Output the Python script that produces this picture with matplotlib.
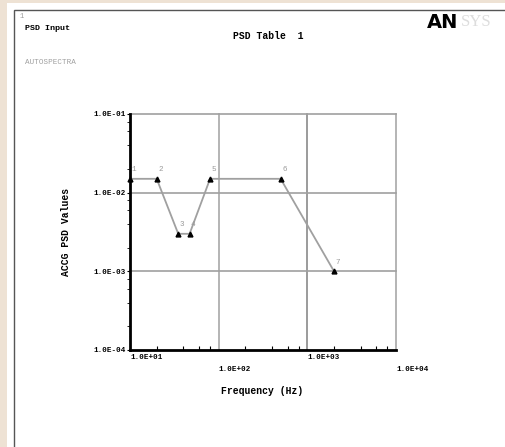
import numpy as np
from matplotlib import pyplot as plt
from matplotlib.patches import Rectangle

# PSD table
freq = [10, 20, 35, 47, 80, 500, 2000]
psd = [0.015, 0.015, 0.003, 0.003, 0.015, 0.015, 0.001]
point_ids = ['1', '2', '3', '4', '5', '6', '7']
x_ticks = [10, 100, 1000, 10000]
x_ticklabels = ['1.0E+01', '1.0E+02', '1.0E+03', '1.0E+04']
y_ticks = [1e-4, 1e-3, 1e-2, 1e-1]
y_ticklabels = ['1.0E-04', '1.0E-03', '1.0E-02', '1.0E-01']

W, H = 505, 447
mono = 'Liberation Mono'

fig = plt.figure(figsize=(W / 100, H / 100), dpi=100)
fig.patch.set_facecolor('#eee2d4')

# white panel with dark border, like the ANSYS graphics window
fig.add_artist(Rectangle((7 / W, 0), 1, 1 - 3 / H, transform=fig.transFigure,
                         facecolor='white', edgecolor='none', zorder=0))
fig.add_artist(Rectangle((14 / W, -0.01), 1, 1 - 10 / H + 0.01, transform=fig.transFigure,
                         facecolor='white', edgecolor='#555555', lw=1.0, zorder=0))

ax = fig.add_axes([130 / W, 1 - 350 / H, 266 / W, 236 / H])
ax.set_xscale('log')
ax.set_yscale('log')
ax.set_xlim(10, 10000)
ax.set_ylim(1e-4, 1e-1)

# grid
for xv in x_ticks[1:]:
    ax.axvline(xv, color='#a8a8a8' if xv != 1000 else '#8a8a8a', lw=1.2, zorder=1, clip_on=False)
for yv in y_ticks[1:]:
    ax.axhline(yv, color='#a0a0a0', lw=1.2, zorder=1, clip_on=False)

for side in ['top', 'right']:
    ax.spines[side].set_visible(False)
for side in ['left', 'bottom']:
    ax.spines[side].set_linewidth(2.0)
    ax.spines[side].set_color('black')

ax.set_xticks(x_ticks)
ax.set_xticklabels([])
ax.set_yticks(y_ticks)
ax.set_yticklabels(y_ticklabels, fontsize=5.5, fontfamily=mono, fontweight='bold')
minors_x = [m * 10 ** d for d in range(1, 4) for m in (2, 4, 6, 8)]
minors_y = [m * 10.0 ** d for d in range(-4, -1) for m in (2, 4, 6, 8)]
ax.set_xticks(minors_x, minor=True)
ax.set_yticks(minors_y, minor=True)
ax.xaxis.set_minor_formatter(plt.NullFormatter())
ax.yaxis.set_minor_formatter(plt.NullFormatter())
ax.tick_params(axis='x', which='major', direction='in', length=0)
ax.tick_params(axis='x', which='minor', direction='in', length=3, width=0.8)
ax.tick_params(axis='y', which='major', direction='out', length=2, width=0.8, pad=1)
ax.tick_params(axis='y', which='minor', direction='out', length=2, width=0.6)

# staggered x tick labels, left aligned at the tick
for i, (xv, lab) in enumerate(zip(x_ticks, x_ticklabels)):
    yy = -0.03 if i % 2 == 0 else -0.083
    ax.text(xv, yy, lab, transform=ax.get_xaxis_transform(), ha='left', va='center',
            fontsize=5.5, fontfamily=mono, fontweight='bold')

ax.plot(freq, psd, color='#a0a0a0', lw=1.3, zorder=3, clip_on=False)
ax.plot(freq, psd, ls='none', marker='^', ms=3.5, color='black', zorder=4, clip_on=False)
for f, p, pid in zip(freq, psd, point_ids):
    ax.annotate(pid, (f, p), xytext=(1, 4), textcoords='offset points',
                fontsize=5.5, color='#9a9a9a', fontfamily=mono, ha='left', va='bottom')

fig.text(262 / W, 1 - 391 / H, 'Frequency (Hz)', ha='center', va='center',
         fontsize=7, fontfamily=mono, fontweight='bold')
fig.text(66 / W, 1 - 232 / H, 'ACCG PSD Values', ha='center', va='center', rotation=90,
         fontsize=7, fontfamily=mono, fontweight='bold')

# header texts
fig.text(20 / W, 1 - 17 / H, '1', fontsize=5, color='#999999', fontfamily=mono, va='center')
fig.text(25 / W, 1 - 29 / H, 'PSD Input', fontsize=6, fontfamily=mono, fontweight='bold', va='center')
fig.text(268 / W, 1 - 36 / H, 'PSD Table  1', fontsize=7, fontfamily=mono, fontweight='bold',
         ha='center', va='center')
fig.text(25 / W, 1 - 62 / H, 'AUTOSPECTRA', fontsize=5.5, color='#a0a0a0', fontfamily=mono, va='center')

# logo
fig.text(427 / W, 1 - 22 / H, 'AN', fontsize=14, fontweight='bold', fontfamily='DejaVu Sans',
         va='center', ha='left', color='black')
fig.text(461 / W, 1 - 22 / H, 'SYS', fontsize=12, fontfamily='Liberation Serif',
         va='center', ha='left', color='#dddddd')

fig.savefig('out.png', dpi=100, facecolor=fig.get_facecolor())
